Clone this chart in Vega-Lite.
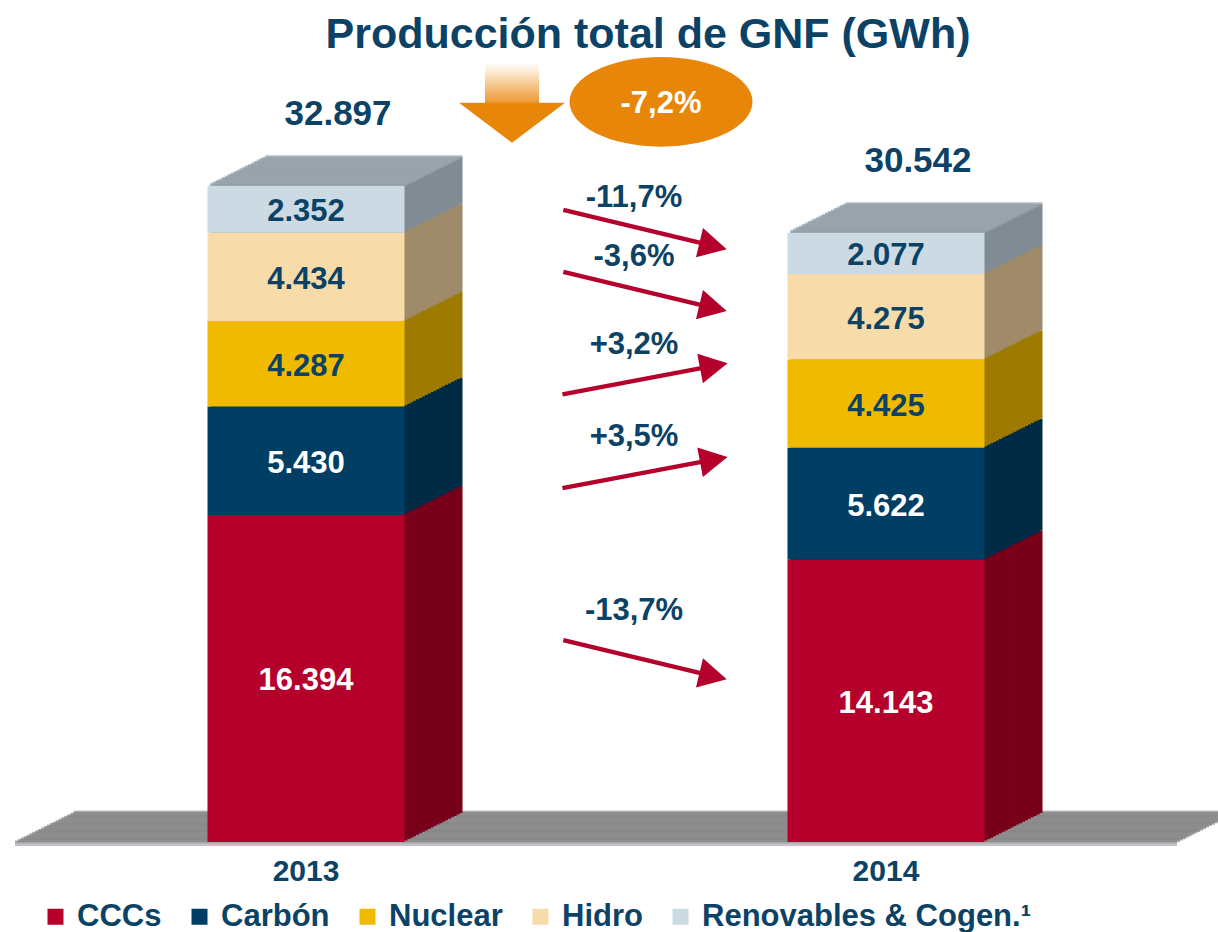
{
  "$schema": "https://vega.github.io/schema/vega-lite/v6.json",
  "width": 1162,
  "height": 798,
  "autosize": {"type": "none"},
  "padding": {"left": 15, "top": 44, "right": 41, "bottom": 90},
  "background": "white",
  "title": {"text": "Producción total de GNF (GWh)", "fontSize": 43, "fontWeight": "bold", "color": "#0B4266", "anchor": "middle", "frame": "group", "dx": 52, "offset": 0, "dy": 13},
  "datasets": {
    "produccion": [
      {"year": "2013", "category": "CCCs", "orden": 1, "value": 16394},
      {"year": "2013", "category": "Carbón", "orden": 2, "value": 5430},
      {"year": "2013", "category": "Nuclear", "orden": 3, "value": 4287},
      {"year": "2013", "category": "Hidro", "orden": 4, "value": 4434},
      {"year": "2013", "category": "Renovables & Cogen.¹", "orden": 5, "value": 2352},
      {"year": "2014", "category": "CCCs", "orden": 1, "value": 14143},
      {"year": "2014", "category": "Carbón", "orden": 2, "value": 5622},
      {"year": "2014", "category": "Nuclear", "orden": 3, "value": 4425},
      {"year": "2014", "category": "Hidro", "orden": 4, "value": 4275},
      {"year": "2014", "category": "Renovables & Cogen.¹", "orden": 5, "value": 2077}
    ],
    "variacion": [
      {"category": "CCCs", "pct": -0.137},
      {"category": "Carbón", "pct": 0.035},
      {"category": "Nuclear", "pct": 0.032},
      {"category": "Hidro", "pct": -0.036},
      {"category": "Renovables & Cogen.¹", "pct": -0.117}
    ],
    "total": [{"cambio": -0.072}]
  },
  "config": {
    "font": "Liberation Sans",
    "view": {"stroke": null},
    "axisX": {"domain": false, "ticks": false, "grid": false, "labelAngle": 0, "labelFontSize": 30, "labelFontWeight": "bold", "labelColor": "#0B4266", "labelPadding": 14, "title": null},
    "locale": {"number": {"decimal": ",", "thousands": ".", "grouping": [3], "currency": ["", " €"], "minus": "-"}}
  },
  "layer": [
    {
      "data": {"name": "total"},
      "encoding": {
        "x": {"datum": "2013", "type": "nominal", "title": null},
        "y": {"datum": 0, "type": "quantitative", "axis": null}
      },
      "layer": [
        {"mark": {"type": "tick", "size": 1162, "thickness": 3, "color": "#A3A7AC", "xOffset": 349.5, "yOffset": -30}},
        {"mark": {"type": "tick", "size": 1162, "thickness": 3, "color": "#808080", "xOffset": 348, "yOffset": -29}},
        {"mark": {"type": "tick", "size": 1162, "thickness": 3, "color": "#808080", "xOffset": 345.1, "yOffset": -27.55}},
        {"mark": {"type": "tick", "size": 1162, "thickness": 3, "color": "#808080", "xOffset": 342.2, "yOffset": -26.1}},
        {"mark": {"type": "tick", "size": 1162, "thickness": 3, "color": "#808080", "xOffset": 339.3, "yOffset": -24.65}},
        {"mark": {"type": "tick", "size": 1162, "thickness": 3, "color": "#808080", "xOffset": 336.4, "yOffset": -23.2}},
        {"mark": {"type": "tick", "size": 1162, "thickness": 3, "color": "#808080", "xOffset": 333.5, "yOffset": -21.75}},
        {"mark": {"type": "tick", "size": 1162, "thickness": 3, "color": "#808080", "xOffset": 330.6, "yOffset": -20.3}},
        {"mark": {"type": "tick", "size": 1162, "thickness": 3, "color": "#808080", "xOffset": 327.7, "yOffset": -18.85}},
        {"mark": {"type": "tick", "size": 1162, "thickness": 3, "color": "#808080", "xOffset": 324.8, "yOffset": -17.4}},
        {"mark": {"type": "tick", "size": 1162, "thickness": 3, "color": "#808080", "xOffset": 321.9, "yOffset": -15.95}},
        {"mark": {"type": "tick", "size": 1162, "thickness": 3, "color": "#808080", "xOffset": 319, "yOffset": -14.5}},
        {"mark": {"type": "tick", "size": 1162, "thickness": 3, "color": "#808080", "xOffset": 316.1, "yOffset": -13.05}},
        {"mark": {"type": "tick", "size": 1162, "thickness": 3, "color": "#808080", "xOffset": 313.2, "yOffset": -11.6}},
        {"mark": {"type": "tick", "size": 1162, "thickness": 3, "color": "#808080", "xOffset": 310.3, "yOffset": -10.15}},
        {"mark": {"type": "tick", "size": 1162, "thickness": 3, "color": "#808080", "xOffset": 307.4, "yOffset": -8.7}},
        {"mark": {"type": "tick", "size": 1162, "thickness": 3, "color": "#808080", "xOffset": 304.5, "yOffset": -7.25}},
        {"mark": {"type": "tick", "size": 1162, "thickness": 3, "color": "#808080", "xOffset": 301.6, "yOffset": -5.8}},
        {"mark": {"type": "tick", "size": 1162, "thickness": 3, "color": "#808080", "xOffset": 298.7, "yOffset": -4.35}},
        {"mark": {"type": "tick", "size": 1162, "thickness": 3, "color": "#808080", "xOffset": 295.8, "yOffset": -2.9}},
        {"mark": {"type": "tick", "size": 1162, "thickness": 3, "color": "#808080", "xOffset": 292.9, "yOffset": -1.45}},
        {"mark": {"type": "tick", "size": 1162, "thickness": 3, "color": "#808080", "xOffset": 290, "yOffset": 0}},
        {"mark": {"type": "tick", "size": 1162, "thickness": 3, "color": "#A6AAB0", "xOffset": 290, "yOffset": 2.5}}
      ]
    },
    {
      "data": {"name": "produccion"},
      "encoding": {
        "x": {"field": "year", "type": "nominal", "title": null, "scale": {"paddingInner": 0.6603, "paddingOuter": 0.3319}},
        "y": {"field": "value", "type": "quantitative", "stack": "zero", "axis": null, "scale": {"domain": [0, 40000]}},
        "order": {"field": "orden", "type": "quantitative"},
        "fill": {
          "condition": [
            {"test": "datum.orden == 1", "value": "#78001A"},
            {"test": "datum.orden == 2", "value": "#002B45"},
            {"test": "datum.orden == 3", "value": "#9E7B00"},
            {"test": "datum.orden == 4", "value": "#9F8B69"}
          ],
          "value": "#808B94"
        }
      },
      "layer": [
        {"mark": {"type": "bar", "xOffset": 58, "x2Offset": 58, "yOffset": -29, "y2Offset": -29}},
        {"mark": {"type": "bar", "xOffset": 55.1, "x2Offset": 55.1, "yOffset": -27.55, "y2Offset": -27.55}},
        {"mark": {"type": "bar", "xOffset": 52.2, "x2Offset": 52.2, "yOffset": -26.1, "y2Offset": -26.1}},
        {"mark": {"type": "bar", "xOffset": 49.3, "x2Offset": 49.3, "yOffset": -24.65, "y2Offset": -24.65}},
        {"mark": {"type": "bar", "xOffset": 46.4, "x2Offset": 46.4, "yOffset": -23.2, "y2Offset": -23.2}},
        {"mark": {"type": "bar", "xOffset": 43.5, "x2Offset": 43.5, "yOffset": -21.75, "y2Offset": -21.75}},
        {"mark": {"type": "bar", "xOffset": 40.6, "x2Offset": 40.6, "yOffset": -20.3, "y2Offset": -20.3}},
        {"mark": {"type": "bar", "xOffset": 37.7, "x2Offset": 37.7, "yOffset": -18.85, "y2Offset": -18.85}},
        {"mark": {"type": "bar", "xOffset": 34.8, "x2Offset": 34.8, "yOffset": -17.4, "y2Offset": -17.4}},
        {"mark": {"type": "bar", "xOffset": 31.9, "x2Offset": 31.9, "yOffset": -15.95, "y2Offset": -15.95}},
        {"mark": {"type": "bar", "xOffset": 29, "x2Offset": 29, "yOffset": -14.5, "y2Offset": -14.5}},
        {"mark": {"type": "bar", "xOffset": 26.1, "x2Offset": 26.1, "yOffset": -13.05, "y2Offset": -13.05}},
        {"mark": {"type": "bar", "xOffset": 23.2, "x2Offset": 23.2, "yOffset": -11.6, "y2Offset": -11.6}},
        {"mark": {"type": "bar", "xOffset": 20.3, "x2Offset": 20.3, "yOffset": -10.15, "y2Offset": -10.15}},
        {"mark": {"type": "bar", "xOffset": 17.4, "x2Offset": 17.4, "yOffset": -8.7, "y2Offset": -8.7}},
        {"mark": {"type": "bar", "xOffset": 14.5, "x2Offset": 14.5, "yOffset": -7.25, "y2Offset": -7.25}},
        {"mark": {"type": "bar", "xOffset": 11.6, "x2Offset": 11.6, "yOffset": -5.8, "y2Offset": -5.8}},
        {"mark": {"type": "bar", "xOffset": 8.7, "x2Offset": 8.7, "yOffset": -4.35, "y2Offset": -4.35}},
        {"mark": {"type": "bar", "xOffset": 5.8, "x2Offset": 5.8, "yOffset": -2.9, "y2Offset": -2.9}},
        {"mark": {"type": "bar", "xOffset": 2.9, "x2Offset": 2.9, "yOffset": -1.45, "y2Offset": -1.45}}
      ]
    },
    {
      "data": {"name": "produccion"},
      "transform": [{"aggregate": [{"op": "sum", "field": "value", "as": "total"}], "groupby": ["year"]}],
      "encoding": {
        "x": {"field": "year", "type": "nominal", "title": null},
        "y": {"field": "total", "type": "quantitative", "axis": null}
      },
      "layer": [
        {"mark": {"type": "tick", "size": 197, "thickness": 3, "color": "#9BA6AE", "xOffset": 58, "yOffset": -29}},
        {"mark": {"type": "tick", "size": 197, "thickness": 3, "color": "#9BA6AE", "xOffset": 55.1, "yOffset": -27.55}},
        {"mark": {"type": "tick", "size": 197, "thickness": 3, "color": "#9BA6AE", "xOffset": 52.2, "yOffset": -26.1}},
        {"mark": {"type": "tick", "size": 197, "thickness": 3, "color": "#9BA6AE", "xOffset": 49.3, "yOffset": -24.65}},
        {"mark": {"type": "tick", "size": 197, "thickness": 3, "color": "#9BA6AE", "xOffset": 46.4, "yOffset": -23.2}},
        {"mark": {"type": "tick", "size": 197, "thickness": 3, "color": "#9BA6AE", "xOffset": 43.5, "yOffset": -21.75}},
        {"mark": {"type": "tick", "size": 197, "thickness": 3, "color": "#9BA6AE", "xOffset": 40.6, "yOffset": -20.3}},
        {"mark": {"type": "tick", "size": 197, "thickness": 3, "color": "#9BA6AE", "xOffset": 37.7, "yOffset": -18.85}},
        {"mark": {"type": "tick", "size": 197, "thickness": 3, "color": "#9BA6AE", "xOffset": 34.8, "yOffset": -17.4}},
        {"mark": {"type": "tick", "size": 197, "thickness": 3, "color": "#9BA6AE", "xOffset": 31.9, "yOffset": -15.95}},
        {"mark": {"type": "tick", "size": 197, "thickness": 3, "color": "#9BA6AE", "xOffset": 29, "yOffset": -14.5}},
        {"mark": {"type": "tick", "size": 197, "thickness": 3, "color": "#9BA6AE", "xOffset": 26.1, "yOffset": -13.05}},
        {"mark": {"type": "tick", "size": 197, "thickness": 3, "color": "#9BA6AE", "xOffset": 23.2, "yOffset": -11.6}},
        {"mark": {"type": "tick", "size": 197, "thickness": 3, "color": "#9BA6AE", "xOffset": 20.3, "yOffset": -10.15}},
        {"mark": {"type": "tick", "size": 197, "thickness": 3, "color": "#9BA6AE", "xOffset": 17.4, "yOffset": -8.7}},
        {"mark": {"type": "tick", "size": 197, "thickness": 3, "color": "#9BA6AE", "xOffset": 14.5, "yOffset": -7.25}},
        {"mark": {"type": "tick", "size": 197, "thickness": 3, "color": "#9BA6AE", "xOffset": 11.6, "yOffset": -5.8}},
        {"mark": {"type": "tick", "size": 197, "thickness": 3, "color": "#9BA6AE", "xOffset": 8.7, "yOffset": -4.35}},
        {"mark": {"type": "tick", "size": 197, "thickness": 3, "color": "#9BA6AE", "xOffset": 5.8, "yOffset": -2.9}},
        {"mark": {"type": "tick", "size": 197, "thickness": 3, "color": "#9BA6AE", "xOffset": 2.9, "yOffset": -1.45}}
      ]
    },
    {
      "data": {"name": "produccion"},
      "mark": {"type": "bar"},
      "encoding": {
        "x": {"field": "year", "type": "nominal", "title": null},
        "y": {"field": "value", "type": "quantitative", "stack": "zero", "axis": null},
        "order": {"field": "orden", "type": "quantitative"},
        "color": {
          "field": "category", "type": "nominal",
          "scale": {"domain": ["CCCs", "Carbón", "Nuclear", "Hidro", "Renovables & Cogen.¹"], "range": ["#B4002B", "#003F63", "#F0BA00", "#F7DBA9", "#CCDAE3"]},
          "legend": {"orient": "none", "legendX": 25, "legendY": 857, "direction": "horizontal", "title": null, "symbolType": "square", "symbolSize": 256, "symbolStrokeWidth": 0, "symbolOpacity": 1, "labelFontSize": 31, "labelFontWeight": "bold", "labelColor": "#0B4266", "labelOffset": 6, "columnPadding": 22, "labelLimit": 0}
        }
      }
    },
    {
      "data": {"name": "produccion"},
      "mark": {"type": "text", "fontSize": 31, "fontWeight": "bold", "baseline": "middle", "dy": 3},
      "encoding": {
        "x": {"field": "year", "type": "nominal", "title": null},
        "y": {"field": "value", "type": "quantitative", "stack": "zero", "bandPosition": 0.5, "axis": null},
        "detail": {"field": "category"},
        "order": {"field": "orden", "type": "quantitative"},
        "text": {"field": "value", "type": "quantitative", "format": ",d"},
        "color": {"condition": {"test": "datum.orden <= 2", "value": "#FFFFFF"}, "value": "#0B4266"}
      }
    },
    {
      "data": {"name": "produccion"},
      "transform": [{"aggregate": [{"op": "sum", "field": "value", "as": "total"}], "groupby": ["year"]}],
      "mark": {"type": "text", "fontSize": 35, "fontWeight": "bold", "color": "#0B4266", "baseline": "middle", "xOffset": 32, "dy": -72},
      "encoding": {
        "x": {"field": "year", "type": "nominal", "title": null},
        "y": {"field": "total", "type": "quantitative", "axis": null},
        "text": {"field": "total", "type": "quantitative", "format": ",d"}
      }
    },
    {
      "data": {"name": "produccion"},
      "transform": [
        {"filter": "datum.year === '2013'"},
        {"lookup": "category", "from": {"data": {"name": "variacion"}, "key": "category", "fields": ["pct"]}}
      ],
      "encoding": {
        "x": {"field": "year", "type": "nominal", "title": null},
        "detail": {"field": "category"},
        "order": {"field": "orden", "type": "quantitative"}
      },
      "layer": [
        {
          "mark": {"type": "point", "shape": "M -1 -0.026 L 0.667 -0.026 L 0.667 -0.179 L 1 0 L 0.667 0.179 L 0.667 0.026 L -1 0.026 Z", "size": 28224, "filled": true, "color": "#B5002B", "opacity": 1, "strokeWidth": 0, "xOffset": 339, "yOffset": 27},
          "encoding": {
            "y": {"field": "value", "type": "quantitative", "stack": "zero", "bandPosition": 0.64, "axis": null},
            "angle": {"field": "pct", "type": "quantitative", "legend": null, "scale": {"type": "threshold", "domain": [0], "range": [13.5, -10.7]}}
          }
        },
        {
          "mark": {"type": "text", "fontSize": 31, "fontWeight": "bold", "color": "#0B4266", "baseline": "middle", "xOffset": 328, "dy": -2},
          "encoding": {
            "y": {"field": "value", "type": "quantitative", "stack": "zero", "bandPosition": 0.7, "axis": null},
            "text": {"field": "pct", "type": "quantitative", "format": "+.1%"}
          }
        }
      ]
    },
    {
      "data": {"name": "total"},
      "encoding": {
        "x": {"datum": "2013", "type": "nominal", "title": null},
        "y": {"datum": 37100, "type": "quantitative", "axis": null}
      },
      "layer": [
        {"mark": {"type": "point", "shape": "M -0.51 -0.755 L 0.51 -0.755 L 0.51 0 L 1 0 L 0 0.755 L -1 0 L -0.51 0 Z", "size": 11236, "filled": true, "opacity": 1, "strokeWidth": 0, "xOffset": 206, "yOffset": 1,
          "color": {"gradient": "linear", "x1": 0, "y1": 0, "x2": 0, "y2": 1, "stops": [{"offset": 0, "color": "#FFFFFF"}, {"offset": 0.15, "color": "#FBE2C2"}, {"offset": 0.49, "color": "#EE9A36"}, {"offset": 0.51, "color": "#E8860A"}, {"offset": 1, "color": "#E8860A"}]}}},
        {"mark": {"type": "point", "shape": "M -1 0 A 1 0.49 0 1 1 1 0 A 1 0.49 0 1 1 -1 0 Z", "size": 33489, "filled": true, "color": "#E8860A", "opacity": 1, "strokeWidth": 0, "xOffset": 355}},
        {"mark": {"type": "text", "fontSize": 31, "fontWeight": "bold", "color": "#FFFFFF", "baseline": "middle", "xOffset": 355, "dy": 2},
          "encoding": {"text": {"field": "cambio", "type": "quantitative", "format": ".1%"}}}
      ]
    }
  ]
}
